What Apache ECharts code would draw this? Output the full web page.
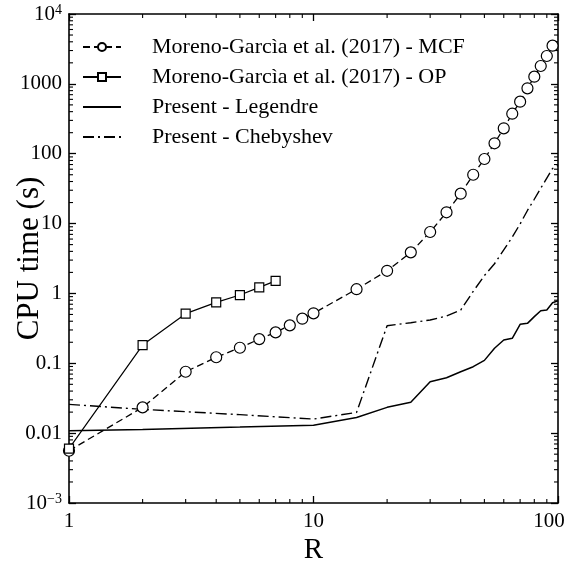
<!DOCTYPE html>
<html><head><meta charset="utf-8">
<script src="https://cdn.jsdelivr.net/npm/echarts@6/dist/echarts.min.js"></script>
<style>html,body{margin:0;padding:0;background:#fff}#c{width:568px;height:570px}</style>
</head><body><div id="c"></div>
<script>
// ---- data ----
const seriesNames = ['Moreno-Garcìa et al. (2017) - MCF','Moreno-Garcìa et al. (2017) - OP','Present - Legendre','Present - Chebyshev'];
const mcfR = [1,2,3,4,5,6,7,8,9,10,15,20,25,30,35,40,45,50,55,60,65,70,75,80,85,90,95];
const mcfT = [0.0056,0.0234,0.0757,0.122,0.167,0.222,0.277,0.349,0.435,0.519,1.15,2.11,3.87,7.57,14.5,26.8,50,84,141,231,374,556,863,1267,1802,2504,3520];
const opR = [1,2,3,4,5,6,7];
const opT = [0.006,0.1825,0.513,0.745,0.948,1.22,1.51];
const legR = [1,2,5,10,15,20,25,30,35,40,45,50,55,60,65,70,75,80,85,90,95,100];
const legT = [0.0108,0.0113,0.0122,0.0130,0.0167,0.0234,0.0276,0.0545,0.062,0.0757,0.0893,0.110,0.164,0.215,0.228,0.361,0.373,0.465,0.565,0.578,0.736,0.785];
const chebR = [1,2,5,10,15,20,25,30,35,40,45,50,55,60,65,70,75,80,85,90,95,100];
const chebT = [0.0258,0.0219,0.0184,0.0159,0.0198,0.345,0.381,0.416,0.475,0.578,1.07,1.8,2.66,4.2,6.4,9.9,15.4,22.3,32,44.8,61.4,68];
const xTickLabels = ['{n|1}','{n|10}','{r|100}'];
const yTickLabels = {'-3':'{b|10}{s|−3}','-2':'0.01','-1':'0.1','0':'1','1':'10','2':'100','3':'1000','4':'{b|10}{s|4}'};

const FONT = '"Liberation Serif", "DejaVu Serif", serif';
const chart = echarts.init(document.getElementById('c'), null, {renderer:'canvas'});
const pair = (xs, ys) => xs.map((x, i) => [x, ys[i]]);
const black = '#000';
const axisCommon = {
  type: 'log', logBase: 10,
  axisLine: {show: true, onZero: false, lineStyle: {color: black, width: 1.6}},
  axisTick: {show: true, inside: true, length: 7, lineStyle: {color: black, width: 1.3}},
  splitLine: {show: false}, minorTick: {show: false}, minorSplitLine: {show: false}
};
const rich = {
  b: {fontFamily: FONT, fontSize: 21, color: black},
  s: {fontFamily: FONT, fontSize: 14, color: black, verticalAlign: 'top', padding: [0,0,8,0]}
};
const richX = {
  n: {fontFamily: FONT, fontSize: 21, color: black},
  r: {fontFamily: FONT, fontSize: 21, color: black, padding: [0,18,0,0]}
};
const option = {
  animation: false,
  backgroundColor: '#fff',
  grid: {left: 69, top: 14, right: 10, bottom: 67, containLabel: false, outerBoundsMode: 'none'},
  xAxis: [
    Object.assign({}, axisCommon, {min: 1, max: 100, position: 'bottom',
      name: 'R', nameLocation: 'middle', nameGap: 33, nameMoveOverlap: false,
      nameTextStyle: {fontFamily: FONT, fontSize: 29, color: black},
      axisLabel: {show: true, margin: 8, color: black, rich: richX, hideOverlap: false,
        formatter: v => { const e = Math.round(Math.log10(v)); return xTickLabels[e] || ''; }}}),
    Object.assign({}, axisCommon, {min: 1, max: 100, position: 'top', axisLabel: {show: false}})
  ],
  yAxis: [
    Object.assign({}, axisCommon, {min: 0.001, max: 10000, interval: 1, position: 'left',
      name: 'CPU time (s)', nameLocation: 'middle', nameGap: 24, nameRotate: 90, nameMoveOverlap: false,
      nameTextStyle: {fontFamily: FONT, fontSize: 31, color: black},
      axisLabel: {show: true, margin: 7, fontFamily: FONT, fontSize: 21, color: black, rich: rich,
        formatter: v => { const e = Math.round(Math.log10(v)); const t = yTickLabels[String(e)]; return t && t.indexOf('{') === 0 ? t : '{b|' + t + '}'; }}}),
    Object.assign({}, axisCommon, {min: 0.001, max: 10000, interval: 1, position: 'right', axisLabel: {show: false}})
  ],
  legend: {
    orient: 'vertical', left: 77, top: 31, itemWidth: 38, itemHeight: 10, itemGap: 8,
    textStyle: {fontFamily: FONT, fontSize: 22, color: black, padding: [0,0,0,26], lineHeight: 22},
    data: [
      {name: seriesNames[0]},
      {name: seriesNames[1]},
      {name: seriesNames[2], itemStyle: {opacity: 0}},
      {name: seriesNames[3], itemStyle: {opacity: 0}}
    ]
  },
  series: [
    {name: seriesNames[0], type: 'line', data: pair(mcfR, mcfT), symbol: 'circle', symbolSize: 11,
      itemStyle: {color: '#fff', borderColor: black, borderWidth: 1.2},
      lineStyle: {color: black, width: 1.3, type: [7,4]}, z: 3},
    {name: seriesNames[1], type: 'line', data: pair(opR, opT), symbol: 'rect', symbolSize: 9,
      itemStyle: {color: '#fff', borderColor: black, borderWidth: 1.2},
      lineStyle: {color: black, width: 1.2, type: 'solid'}, z: 3},
    {name: seriesNames[2], type: 'line', data: pair(legR, legT), symbol: 'none',
      itemStyle: {color: black}, lineStyle: {color: black, width: 1.5, type: 'solid'}},
    {name: seriesNames[3], type: 'line', data: pair(chebR, chebT), symbol: 'none',
      itemStyle: {color: black}, lineStyle: {color: black, width: 1.4, type: [11,4,2,4]}}
  ]
};
chart.setOption(option);

// minor ticks (2..9 per decade) on all four sides, placed through the axes' own scales
function minorTicks() {
  const els = [];
  const x0 = chart.convertToPixel({xAxisIndex: 0}, 1), x1 = chart.convertToPixel({xAxisIndex: 0}, 100);
  const yb = chart.convertToPixel({yAxisIndex: 0}, 0.001), yt = chart.convertToPixel({yAxisIndex: 0}, 10000);
  const L = 4;
  const st = {stroke: black, lineWidth: 1.1};
  for (let d = 0; d < 2; d++) for (let m = 2; m <= 9; m++) {
    const x = chart.convertToPixel({xAxisIndex: 0}, m * Math.pow(10, d));
    els.push({type: 'line', shape: {x1: x, y1: yb, x2: x, y2: yb - L}, style: st, silent: true});
    els.push({type: 'line', shape: {x1: x, y1: yt, x2: x, y2: yt + L}, style: st, silent: true});
  }
  for (let d = -3; d < 4; d++) for (let m = 2; m <= 9; m++) {
    const y = chart.convertToPixel({yAxisIndex: 0}, m * Math.pow(10, d));
    els.push({type: 'line', shape: {x1: x0, y1: y, x2: x0 + L, y2: y}, style: st, silent: true});
    els.push({type: 'line', shape: {x1: x1, y1: y, x2: x1 - L, y2: y}, style: st, silent: true});
  }
  chart.setOption({graphic: els});
}
minorTicks();
</script></body></html>
